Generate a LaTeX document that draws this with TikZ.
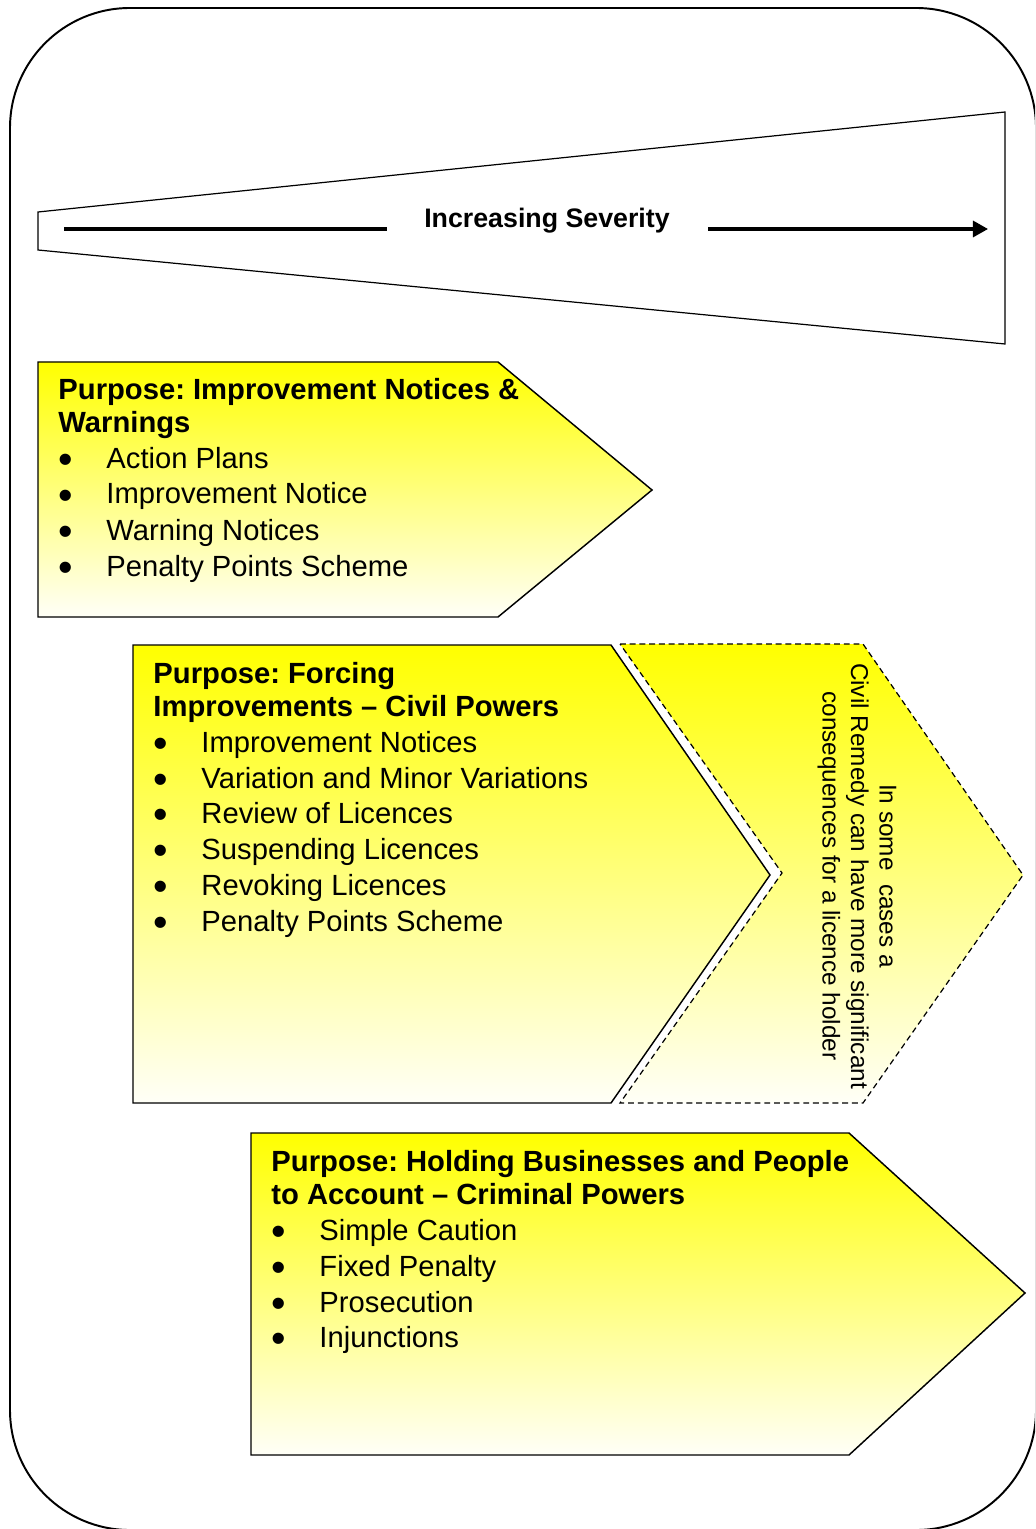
\documentclass[tikz,border=0pt]{standalone}
\usepackage{graphicx}
\usepackage{fontspec}
\setmainfont{Liberation Sans}
\frenchspacing
\usetikzlibrary{arrows.meta}
\newcommand\itembul{\makebox[19.73pt][l]{\raisebox{-2.2pt}{\scalebox{1.417}{•}}}}
\begin{document}
\begin{tikzpicture}[x=0.411pt,y=-0.411pt,
  outl/.style={draw=black,line width=0.6pt},
  yfill/.style={top color=yellow,bottom color=yellow!3!white},
  ttl/.style={anchor=base west,inner sep=0,text height=8.8pt,text depth=2.6pt,font=\fontsize{12}{14}\selectfont\bfseries},
  itm/.style={anchor=base west,inner sep=0,text height=8.8pt,text depth=2.6pt,font=\fontsize{12}{14}\selectfont},
  sevline/.style={line width=1.3pt},
]
\useasboundingbox (0,0) rectangle (1035,1529);
\clip (0,0) rectangle (1035,1529);
% outer frame
\draw[line width=0.8pt,rounded corners=49.3pt] (10,8) rectangle (1036,1530);
% severity wedge
\draw[line width=0.5pt] (38,212) -- (1005,112) -- (1005,344) -- (38,250) -- cycle;
\node[font=\fontsize{11}{13}\selectfont\bfseries,anchor=base,inner sep=0] (sev) at (547,228) {Increasing Severity};
\coordinate (l1) at (64,229);
\coordinate (l2) at (387,229);
\coordinate (r1) at (708,229);
\coordinate (r2) at (988,229);
\draw[sevline] (l1) -- (l2);
\draw[sevline,-{Triangle[length=6.2pt,width=6.6pt]}] (r1) -- (r2);
% box 1
\draw[outl,yfill] (38,362) -- (498,362) -- (652,490) -- (498,617) -- (38,617) -- cycle;
\node[ttl] (t1a) at (58,400) {Purpose: Improvement Notices \&};
\node[ttl] (t1b) at (58,433) {Warnings};
\node[itm] (i1a) at (58,468) {\itembul Action Plans};
\node[itm] (i1b) at (58,504) {\itembul Improvement Notice};
\node[itm] (i1c) at (58,540) {\itembul Warning Notices};
\node[itm] (i1d) at (58,576) {\itembul Penalty Points Scheme};
% dashed chevron
\draw[yfill,line width=0.5pt,dash pattern=on 2.4pt off 1.6pt] (620,644) -- (863,644) -- (1023,875) -- (863,1103) -- (620,1103) -- (782,873) -- cycle;
\node[rotate=-90,align=center,font=\fontsize{10}{11.7}\selectfont,inner sep=0] (civ) at (857,876)
  {In some~ cases a\\Civil Remedy can have more significant\\consequences for a licence holder};
% box 2
\draw[outl,yfill] (133,645) -- (611,645) -- (770,875) -- (611,1103) -- (133,1103) -- cycle;
\node[ttl] (t2a) at (153,683) {Purpose: Forcing};
\node[ttl] (t2b) at (153,716) {Improvements – Civil Powers};
\node[itm] (i2a) at (153,752) {\itembul Improvement Notices};
\node[itm] (i2b) at (153,788) {\itembul Variation and Minor Variations};
\node[itm] (i2c) at (153,823) {\itembul Review of Licences};
\node[itm] (i2d) at (153,859) {\itembul Suspending Licences};
\node[itm] (i2e) at (153,895) {\itembul Revoking Licences};
\node[itm] (i2f) at (153,931) {\itembul Penalty Points Scheme};
% box 3
\draw[outl,yfill] (251,1133) -- (849,1133) -- (1025,1293) -- (849,1455) -- (251,1455) -- cycle;
\node[ttl] (t3a) at (271,1171) {Purpose: Holding Businesses and People};
\node[ttl] (t3b) at (271,1204) {to Account – Criminal Powers};
\node[itm] (i3a) at (271,1240) {\itembul Simple Caution};
\node[itm] (i3b) at (271,1276) {\itembul Fixed Penalty};
\node[itm] (i3c) at (271,1312) {\itembul Prosecution};
\node[itm] (i3d) at (271,1347) {\itembul Injunctions};
\end{tikzpicture}
\end{document}
